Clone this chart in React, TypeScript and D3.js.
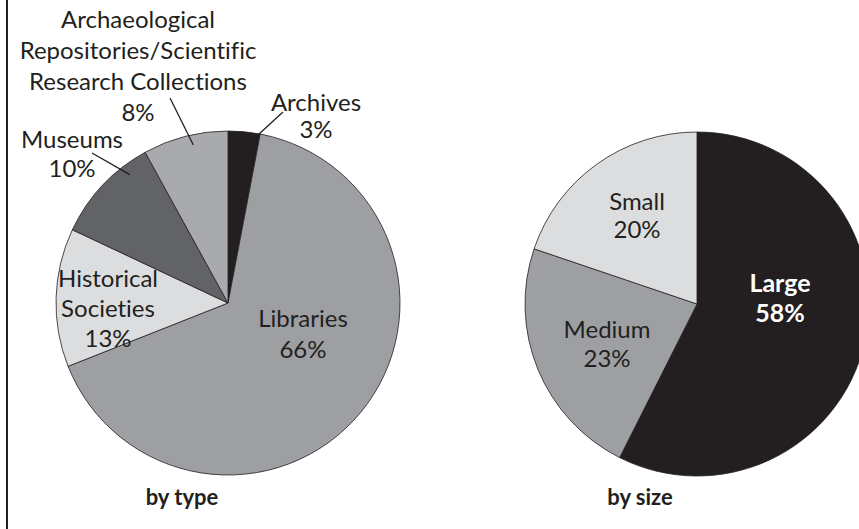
import React from "react";
import * as d3 from "d3";

// ---- data ----
const typeCategories = ["Archives", "Libraries", "Historical Societies", "Museums", "Archaeological Repositories/Scientific Research Collections"];
const typeValues = [3, 66, 13, 10, 8];
const typeLabelLines = [
  ["Archives", "3%"],
  ["Libraries", "66%"],
  ["Historical", "Societies", "13%"],
  ["Museums", "10%"],
  ["Archaeological", "Repositories/Scientific", "Research Collections", "8%"],
];
const sizeCategories = ["Large", "Medium", "Small"];
const sizeValues = [58, 23, 20];
const sizeLabelLines = [
  ["Large", "58%"],
  ["Medium", "23%"],
  ["Small", "20%"],
];
const chartTitles = ["by type", "by size"];

// ---- styles / layout ----
const W = 859;
const H = 529;
const R = 172;
const FONT = "Lato, 'Open Sans', sans-serif";
const typeColors = ["#231f20", "#9d9fa2", "#dcdddf", "#626366", "#a8aaad"];
const sizeColors = ["#231f20", "#9d9fa2", "#dcdddf"];
const typeCenter = { x: 228, y: 303 };
const sizeCenter = { x: 697, y: 304 };
// label anchor (center x, first baseline) relative to pie center, line spacing
const typeLabelLayout = [
  { dx: 88, dy: -192, lh: 27, color: "#231f20", bold: false, fs: 24 },
  { dx: 75, dy: 24, lh: 31, color: "#231f20", bold: false, fs: 24 },
  { dx: -120, dy: -16, lh: 30, color: "#231f20", bold: false, fs: 24 },
  { dx: -156, dy: -155, lh: 29, color: "#231f20", bold: false, fs: 24 },
  { dx: -90, dy: -275, lh: 31, color: "#231f20", bold: false, fs: 24 },
];
const sizeLabelLayout = [
  { dx: 83, dy: -12, lh: 30, color: "#ffffff", bold: true, fs: 25 },
  { dx: -90, dy: 34, lh: 29, color: "#231f20", bold: false, fs: 24 },
  { dx: -60, dy: -94, lh: 28, color: "#231f20", bold: false, fs: 24 },
];
// leader lines: start (relative to pie center) and end as position within slice (t) and radius fraction
const typeLeaders: ({ sx: number; sy: number; t: number; rf: number } | null)[] = [
  { sx: 55, sy: -191, t: 0.93, rf: 0.99 },
  null,
  null,
  { sx: -136, sy: -150, t: 0.76, rf: 0.94 },
  { sx: -58, sy: -205, t: 0.57, rf: 0.94 },
];
const titleLayout = [
  { x: 182, y: 505 },
  { x: 640, y: 505 },
];

function Pie({ values, colors, center, lines, layout, leaders, names }: any) {
  const pie = d3.pie<number>().sort(null).value((d) => d);
  const arcs = pie(values);
  const arc = d3.arc<d3.PieArcDatum<number>>().innerRadius(0).outerRadius(R);
  return (
    <g transform={`translate(${center.x},${center.y})`}>
      {arcs.map((a, i) => (
        <path key={names[i]} d={arc(a) || ""} fill={colors[i]} stroke="#231f20" strokeWidth={0.8} />
      ))}
      {leaders &&
        leaders.map((l: any, i: number) => {
          if (!l) return null;
          const a = arcs[i];
          const ang = a.startAngle + (a.endAngle - a.startAngle) * l.t;
          const ex = Math.sin(ang) * R * l.rf;
          const ey = -Math.cos(ang) * R * l.rf;
          return <line key={"l" + i} x1={l.sx} y1={l.sy} x2={ex} y2={ey} stroke="#231f20" strokeWidth={1.3} />;
        })}
      {lines.map((ls: string[], i: number) => {
        const L = layout[i];
        return (
          <text
            key={"t" + i}
            x={L.dx}
            y={L.dy}
            textAnchor="middle"
            fill={L.color}
            fontFamily={FONT}
            fontSize={L.fs}
            fontWeight={L.bold ? 700 : 400}
            style={{ fontVariantLigatures: "none" }}
          >
            {ls.map((s, j) => (
              <tspan key={j} x={L.dx} y={L.dy + j * L.lh}>
                {s}
              </tspan>
            ))}
          </text>
        );
      })}
    </g>
  );
}

export default function App() {
  return (
    <svg
      width={W}
      height={H}
      viewBox={`0 0 ${W} ${H}`}
      style={{ position: "absolute", left: 0, top: 0, background: "#ffffff" }}
    >
      <rect x={0} y={0} width={W} height={H} fill="#ffffff" />
      <line x1={7} y1={0} x2={7} y2={H} stroke="#231f20" strokeWidth={2} />
      <Pie
        values={typeValues}
        colors={typeColors}
        center={typeCenter}
        lines={typeLabelLines}
        layout={typeLabelLayout}
        leaders={typeLeaders}
        names={typeCategories}
      />
      <Pie
        values={sizeValues}
        colors={sizeColors}
        center={sizeCenter}
        lines={sizeLabelLines}
        layout={sizeLabelLayout}
        leaders={null}
        names={sizeCategories}
      />
      {chartTitles.map((t, i) => (
        <text
          key={t}
          x={titleLayout[i].x}
          y={titleLayout[i].y}
          textAnchor="middle"
          fontFamily={FONT}
          fontSize={22}
          fontWeight={700}
          fill="#231f20"
        >
          {t}
        </text>
      ))}
    </svg>
  );
}
